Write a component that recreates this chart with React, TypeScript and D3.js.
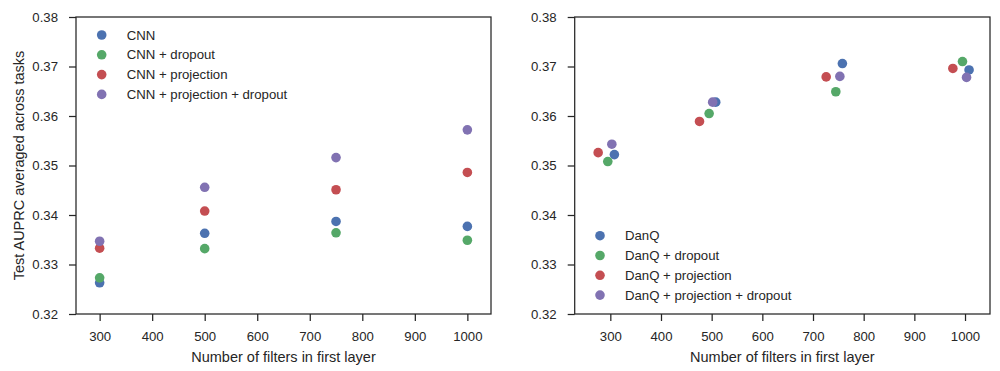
import { useEffect, useRef } from 'react';
import * as d3 from 'd3';

// Left panel: CNN variants, all at the nominal filter counts
const cnnFilters = [300, 500, 750, 1000];
const cnn = [0.3263, 0.3363, 0.3387, 0.3377];
const cnnDropout = [0.3273, 0.3332, 0.3364, 0.3349];
const cnnProjection = [0.3333, 0.3408, 0.3451, 0.3486];
const cnnProjDropout = [0.3347, 0.3456, 0.3516, 0.3572];

// Right panel: DanQ variants, x values are jittered around the filter counts
const danqX = [308, 508, 758, 1008];
const danq = [0.3522, 0.3628, 0.3706, 0.3693];
const danqDropoutX = [295, 495, 745, 995];
const danqDropout = [0.3508, 0.3605, 0.3649, 0.371];
const danqProjectionX = [276, 476, 726, 976];
const danqProjection = [0.3526, 0.3589, 0.3679, 0.3696];
const danqProjDropoutX = [303, 502, 753, 1003];
const danqProjDropout = [0.3543, 0.3628, 0.368, 0.3678];

const xTicks = [300, 400, 500, 600, 700, 800, 900, 1000];
const yTicks = [0.32, 0.33, 0.34, 0.35, 0.36, 0.37, 0.38];

const colors = ['#4C72B0', '#55A868', '#C44E52', '#8172B2'];
const ink = '#262626';
const font = '"Liberation Sans", Arial, sans-serif';

type Series = { name: string; xs: number[]; ys: number[] };

const leftSeries: Series[] = [
  { name: 'CNN', xs: cnnFilters, ys: cnn },
  { name: 'CNN + dropout', xs: cnnFilters, ys: cnnDropout },
  { name: 'CNN + projection', xs: cnnFilters, ys: cnnProjection },
  { name: 'CNN + projection + dropout', xs: cnnFilters, ys: cnnProjDropout },
];

const rightSeries: Series[] = [
  { name: 'DanQ', xs: danqX, ys: danq },
  { name: 'DanQ + dropout', xs: danqDropoutX, ys: danqDropout },
  { name: 'DanQ + projection', xs: danqProjectionX, ys: danqProjection },
  { name: 'DanQ + projection + dropout', xs: danqProjDropoutX, ys: danqProjDropout },
];

function drawPanel(
  svg: d3.Selection<SVGSVGElement, unknown, null, undefined>,
  series: Series[],
  box: { left: number; right: number; top: number; bottom: number },
  xDomain: [number, number],
  legendPos: { x: number; y: number },
  yLabel?: string,
) {
  const x = d3.scaleLinear().domain(xDomain).range([box.left, box.right]);
  const y = d3.scaleLinear().domain([0.32, 0.38]).range([box.bottom, box.top]);
  const g = svg.append('g');

  // axes
  const xAxis = g
    .append('g')
    .attr('transform', `translate(0,${box.bottom})`)
    .call(d3.axisBottom(x).tickValues(xTicks).tickSize(7).tickPadding(11).tickFormat(d3.format('d')));
  const yAxis = g
    .append('g')
    .attr('transform', `translate(${box.left},0)`)
    .call(d3.axisLeft(y).tickValues(yTicks).tickSize(7).tickPadding(11).tickFormat(d3.format('.2f')));
  [xAxis, yAxis].forEach((a) => {
    a.select('.domain').remove();
    a.selectAll('line').attr('stroke', ink).attr('stroke-width', 1.25);
    a.selectAll('text').attr('fill', ink).attr('font-size', 13.2).attr('font-family', font);
  });

  // frame
  g.append('rect')
    .attr('x', box.left)
    .attr('y', box.top)
    .attr('width', box.right - box.left)
    .attr('height', box.bottom - box.top)
    .attr('fill', 'none')
    .attr('stroke', ink)
    .attr('stroke-width', 1.25);

  // points
  series.forEach((s, i) => {
    g.append('g')
      .selectAll('circle')
      .data(s.ys)
      .join('circle')
      .attr('cx', (_, j) => x(s.xs[j]))
      .attr('cy', (d) => y(d))
      .attr('r', 4.8)
      .attr('fill', colors[i]);
  });

  // legend
  const leg = g.append('g').attr('transform', `translate(${legendPos.x},${legendPos.y})`);
  series.forEach((s, i) => {
    leg.append('circle').attr('cx', 0).attr('cy', i * 19.8).attr('r', 4.8).attr('fill', colors[i]);
    leg
      .append('text')
      .attr('x', 25)
      .attr('y', i * 19.8)
      .attr('dy', '0.35em')
      .attr('fill', ink)
      .attr('font-size', 13.2)
      .attr('font-family', font)
      .text(s.name);
  });

  // axis labels
  g.append('text')
    .attr('x', (box.left + box.right) / 2)
    .attr('y', 361.5)
    .attr('text-anchor', 'middle')
    .attr('fill', ink)
    .attr('font-size', 14.5)
    .attr('font-family', font)
    .text('Number of filters in first layer');
  if (yLabel) {
    g.append('text')
      .attr('transform', `translate(24,${(box.top + box.bottom) / 2}) rotate(-90)`)
      .attr('text-anchor', 'middle')
      .attr('fill', ink)
      .attr('font-size', 14.5)
      .attr('font-family', font)
      .text(yLabel);
  }
}

export default function App() {
  const ref = useRef<SVGSVGElement>(null);

  useEffect(() => {
    const svg = d3.select(ref.current!);
    svg.selectAll('*').remove();
    drawPanel(
      svg,
      leftSeries,
      { left: 76, right: 491, top: 17, bottom: 314 },
      [255, 1045],
      { x: 101.7, y: 35 },
      'Test AUPRC averaged across tasks',
    );
    drawPanel(
      svg,
      rightSeries,
      { left: 574.7, right: 990, top: 17, bottom: 314 },
      [229.7, 1049.3],
      { x: 600, y: 235.7 },
    );
  }, []);

  return (
    <svg
      ref={ref}
      width={1000}
      height={371}
      style={{ position: 'absolute', left: 0, top: 0, background: '#fff' }}
    />
  );
}
